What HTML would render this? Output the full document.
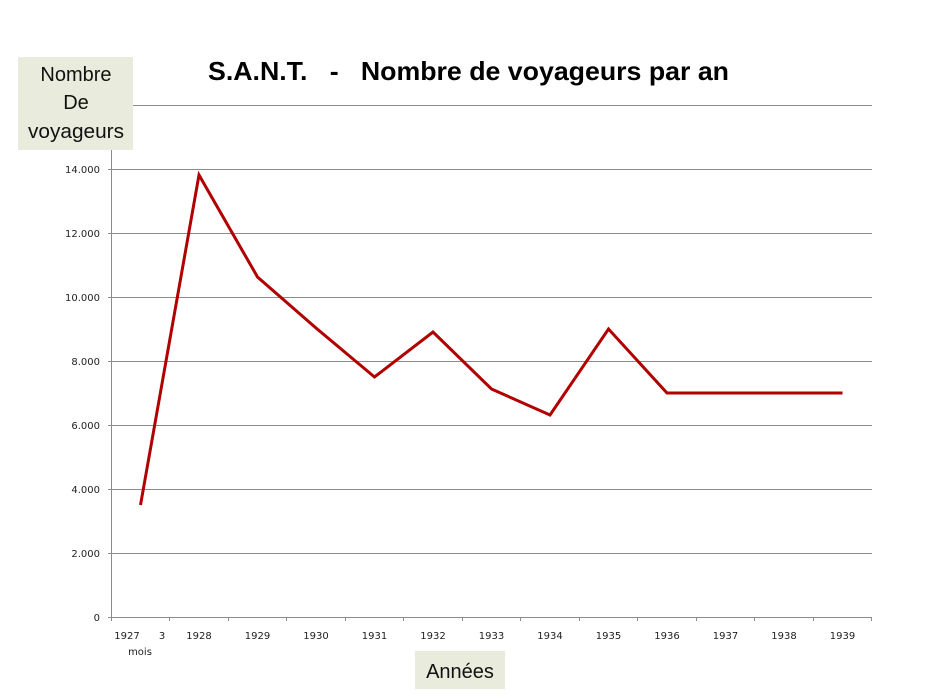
<!DOCTYPE html>
<html><head><meta charset="utf-8"><style>
html,body{margin:0;padding:0;background:#fff;}
svg{display:block;}
</style></head><body>
<svg width="933" height="700" viewBox="0 0 933 700" xmlns="http://www.w3.org/2000/svg">
<rect width="933" height="700" fill="#fff"/>
<!-- title -->
<text x="208" y="80" font-family="'Liberation Sans',sans-serif" font-weight="bold" font-size="26" fill="#000" textLength="521" lengthAdjust="spacingAndGlyphs" xml:space="preserve">S.A.N.T.   -   Nombre de voyageurs par an</text>
<!-- gridlines -->
<g stroke="#8c8c8c" stroke-width="1" shape-rendering="crispEdges">
<line x1="112" y1="105.5" x2="872" y2="105.5"/>
<line x1="108" y1="169.5" x2="872" y2="169.5"/>
<line x1="108" y1="233.5" x2="872" y2="233.5"/>
<line x1="108" y1="297.5" x2="872" y2="297.5"/>
<line x1="108" y1="361.5" x2="872" y2="361.5"/>
<line x1="108" y1="425.5" x2="872" y2="425.5"/>
<line x1="108" y1="489.5" x2="872" y2="489.5"/>
<line x1="108" y1="553.5" x2="872" y2="553.5"/>
<line x1="108" y1="617.5" x2="872" y2="617.5"/>
<line x1="111.5" y1="105" x2="111.5" y2="621"/>
<line x1="169.5" y1="617" x2="169.5" y2="621"/>
<line x1="228.5" y1="617" x2="228.5" y2="621"/>
<line x1="286.5" y1="617" x2="286.5" y2="621"/>
<line x1="345.5" y1="617" x2="345.5" y2="621"/>
<line x1="403.5" y1="617" x2="403.5" y2="621"/>
<line x1="462.5" y1="617" x2="462.5" y2="621"/>
<line x1="520.5" y1="617" x2="520.5" y2="621"/>
<line x1="579.5" y1="617" x2="579.5" y2="621"/>
<line x1="637.5" y1="617" x2="637.5" y2="621"/>
<line x1="696.5" y1="617" x2="696.5" y2="621"/>
<line x1="754.5" y1="617" x2="754.5" y2="621"/>
<line x1="813.5" y1="617" x2="813.5" y2="621"/>
<line x1="871.5" y1="617" x2="871.5" y2="621"/>
</g>
<!-- y labels -->
<g font-family="'DejaVu Sans',sans-serif" font-size="10" fill="#222" text-anchor="end">
<text x="100" y="173">14.000</text>
<text x="100" y="237">12.000</text>
<text x="100" y="301">10.000</text>
<text x="100" y="365">8.000</text>
<text x="100" y="429">6.000</text>
<text x="100" y="493">4.000</text>
<text x="100" y="557">2.000</text>
<text x="100" y="621">0</text>
</g>
<!-- x labels -->
<g font-family="'DejaVu Sans',sans-serif" font-size="10" fill="#222" text-anchor="middle">
<text x="127" y="639">1927</text>
<text x="162" y="639">3</text>
<text x="140" y="655">mois</text>
<text x="199" y="639">1928</text>
<text x="257.5" y="639">1929</text>
<text x="316" y="639">1930</text>
<text x="374.5" y="639">1931</text>
<text x="433" y="639">1932</text>
<text x="491.5" y="639">1933</text>
<text x="550" y="639">1934</text>
<text x="608.5" y="639">1935</text>
<text x="667" y="639">1936</text>
<text x="725.5" y="639">1937</text>
<text x="784" y="639">1938</text>
<text x="842.5" y="639">1939</text>
</g>
<!-- series -->
<polyline fill="none" stroke="#b00000" stroke-width="3" stroke-linejoin="miter" points="140.5,505 199,175 257.5,277 316,328 374.5,377 433,332 491.5,389 550,415 608.5,329 667,393 725.5,393 784,393 842.5,393"/>
<!-- y axis title box -->
<rect x="18" y="57" width="115" height="93" fill="#e9ebdd"/>
<g font-family="'Liberation Sans',sans-serif" font-size="20" fill="#111" text-anchor="middle">
<text x="76" y="81">Nombre</text>
<text x="76" y="109">De</text>
<text x="76" y="138" textLength="96" lengthAdjust="spacingAndGlyphs">voyageurs</text>
</g>
<!-- x axis title box -->
<rect x="415" y="651" width="90" height="38" fill="#e9ebdd"/>
<text x="460" y="678" font-family="'Liberation Sans',sans-serif" font-size="20" fill="#111" text-anchor="middle">Années</text>
</svg>
</body></html>
